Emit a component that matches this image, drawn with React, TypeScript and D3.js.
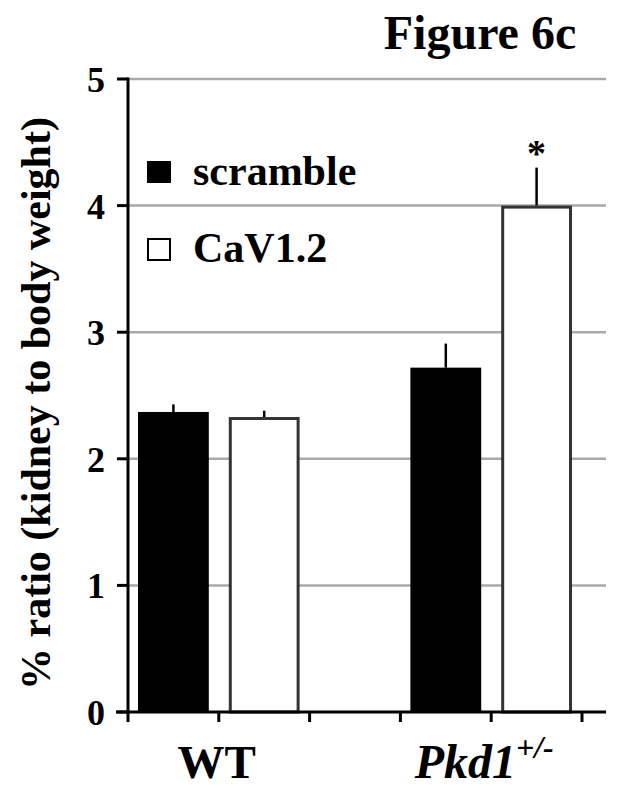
import React from "react";
import * as d3 from "d3";

const categories = ["WT scramble", "WT CaV1.2", "", "Pkd1 scramble", "Pkd1 CaV1.2"];
const barValues = [2.37, 2.33, null, 2.72, 4.0];
const barErrors = [0.06, 0.05, null, 0.19, 0.3];
const barSeries = ["scramble", "CaV1.2", null, "scramble", "CaV1.2"];
const groupLabels = ["WT", "Pkd1"];
const groupMembers = [[0, 1], [3, 4]];
const yTicks = [0, 1, 2, 3, 4, 5];
const legendItems = ["scramble", "CaV1.2"];
const significant = [false, false, false, false, true];

const W = 624;
const H = 799;
const left = 128;
const right = 582;
const plotRight = 606;
const top = 79;
const bottom = 712;
const serif = "'Liberation Serif', 'Times New Roman', serif";

export default function App() {
  const x = d3.scaleBand<number>().domain(d3.range(categories.length)).range([left, right]).paddingInner(0.22).paddingOuter(0.11);
  const y = d3.scaleLinear().domain([0, 5]).range([bottom, top]);
  const tickXs = d3.range(categories.length + 1).map((i) => left + (i * (right - left)) / categories.length);

  return (
    <div style={{ position: "absolute", left: 0, top: 0 }}>
      <svg width={W} height={H} style={{ display: "block", background: "#fff" }}>
        <text x={480} y={49} textAnchor="middle" fontFamily={serif} fontWeight="bold" fontSize={48}>
          Figure 6c
        </text>
        {yTicks.filter((t) => t > 0).map((t) => (
          <line key={t} x1={left} x2={plotRight} y1={y(t)} y2={y(t)} stroke="#aaa" strokeWidth={2.5} />
        ))}
        {barValues.map((v, i) => {
          if (v == null) return null;
          const isBlack = barSeries[i] === "scramble";
          const bx = x(i)!;
          const bw = x.bandwidth();
          const cx = bx + bw / 2;
          const e = barErrors[i] ?? 0;
          return (
            <g key={i}>
              <line x1={cx} x2={cx} y1={y(v)} y2={y(v + e)} stroke="#000" strokeWidth={2.5} />
              {isBlack ? (
                <rect x={bx} y={y(v)} width={bw} height={bottom - y(v)} fill="#000" />
              ) : (
                <rect x={bx + 1.5} y={y(v) + 1.5} width={bw - 3} height={bottom - y(v) - 1.5} fill="#fff" stroke="#333" strokeWidth={3} />
              )}
              {significant[i] && (
                <text x={cx} y={y(v + e) - 2} textAnchor="middle" fontFamily={serif} fontWeight="bold" fontSize={38}>
                  *
                </text>
              )}
            </g>
          );
        })}
        <line x1={left} x2={left} y1={top - 1.5} y2={bottom} stroke="#000" strokeWidth={3} />
        {yTicks.map((t) => (
          <g key={t}>
            <line x1={117} x2={left} y1={y(t)} y2={y(t)} stroke="#000" strokeWidth={3} />
            <text x={105} y={y(t)} dy="0.36em" textAnchor="end" fontFamily={serif} fontWeight="bold" fontSize={36}>
              {t}
            </text>
          </g>
        ))}
        <line x1={116} x2={plotRight} y1={bottom} y2={bottom} stroke="#000" strokeWidth={3} />
        {tickXs.map((tx, i) => (
          <line key={i} x1={tx} x2={tx} y1={bottom} y2={722} stroke="#000" strokeWidth={3} />
        ))}
        {groupLabels.map((g, gi) => {
          const mem = groupMembers[gi];
          const cx = d3.mean(mem, (i) => x(i)! + x.bandwidth() / 2)!;
          if (g === "WT") {
            return (
              <text key={g} x={cx - 2} y={778} textAnchor="middle" fontFamily={serif} fontWeight="bold" fontSize={47}>
                {g}
              </text>
            );
          }
          return (
            <text key={g} x={cx - 7} y={778} textAnchor="middle" fontFamily={serif} fontWeight="bold" fontStyle="italic" fontSize={48}>
              {g}
              <tspan fontSize={32} dy={-20}>+/-</tspan>
            </text>
          );
        })}
        {legendItems.map((s, i) => {
          const ly = 161 + i * 77;
          return (
            <g key={s}>
              {i === 0 ? (
                <rect x={147} y={ly} width={24} height={22} fill="#000" />
              ) : (
                <rect x={148} y={ly + 1} width={22} height={21} fill="#fff" stroke="#000" strokeWidth={2} />
              )}
              <text x={193} y={ly + 24} fontFamily={serif} fontWeight="bold" fontSize={42}>
                {s}
              </text>
            </g>
          );
        })}
        <text
          transform={`translate(50, ${(top + bottom) / 2 + 8}) rotate(-90)`}
          textAnchor="middle"
          fontFamily={serif}
          fontWeight="bold"
          fontSize={42}
        >
          % ratio (kidney to body weight)
        </text>
      </svg>
    </div>
  );
}
